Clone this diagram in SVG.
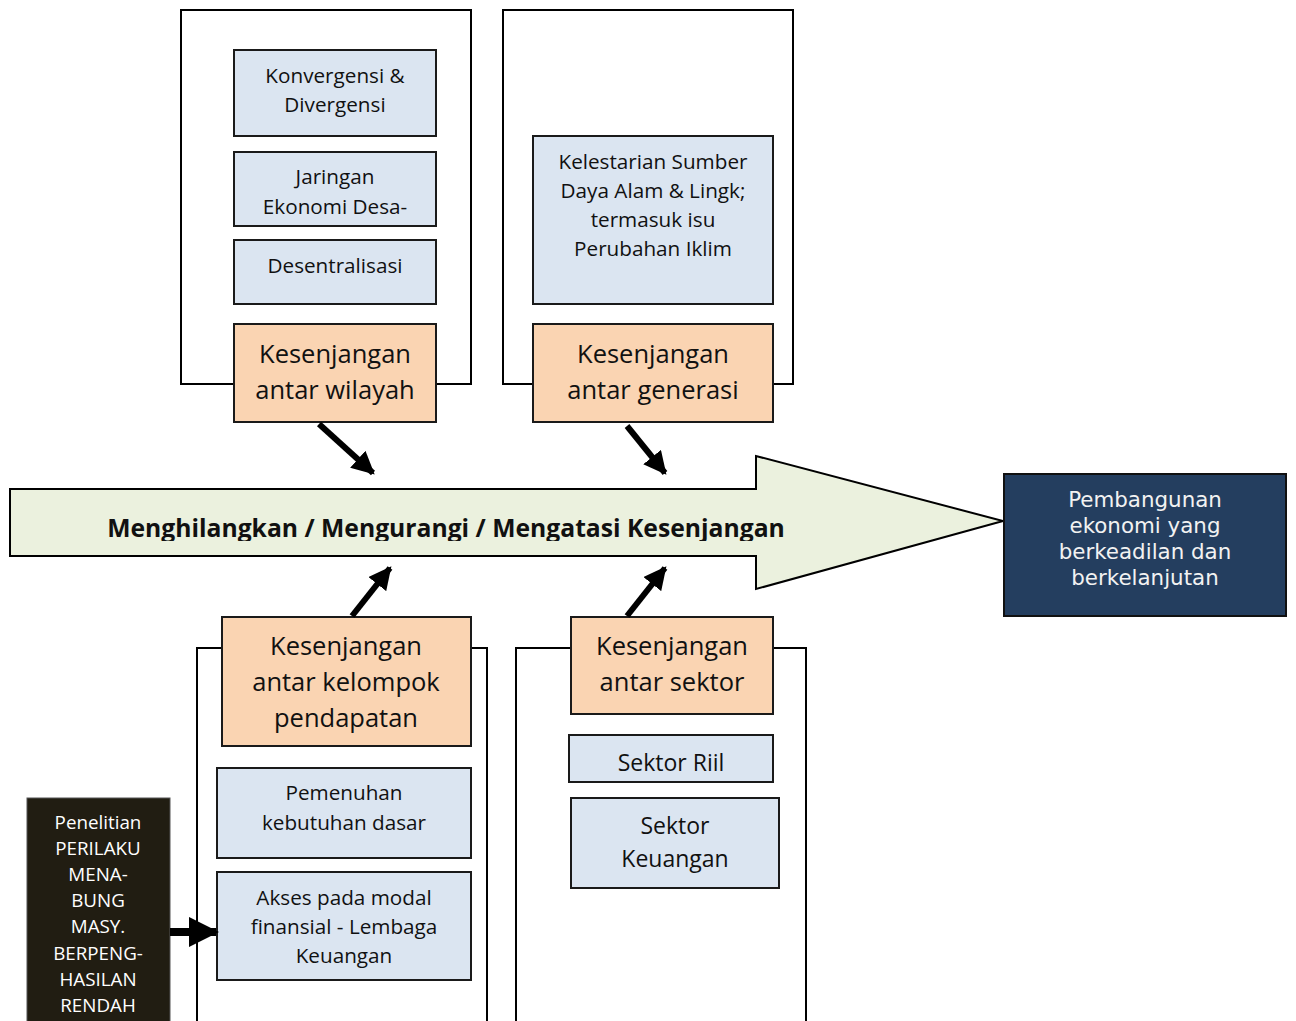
<svg xmlns="http://www.w3.org/2000/svg" width="1296" height="1021" viewBox="0 0 1296 1021">
<defs>
<style>
.frame{fill:#fff;stroke:#000;stroke-width:2}
.blue{fill:#dbe5f1;stroke:#1a1a1a;stroke-width:2}
.orange{fill:#fad4b2;stroke:#1a1a1a;stroke-width:2}
.t{font-family:"Open Sans","Liberation Sans",sans-serif;fill:#111;text-anchor:middle}
.s{font-size:20.7px}
.b{font-size:23px}
.o{font-size:25.5px}
.w{font-family:"Open Sans","Liberation Sans",sans-serif;fill:#fff;text-anchor:middle;font-size:18.8px}
.v{font-family:"DejaVu Sans",Verdana,sans-serif;fill:#f2f2f2;text-anchor:middle;font-size:21.4px}
.conn{stroke:#000;stroke-width:6;fill:none}
</style>
<marker id="ah" viewBox="0 0 10 10" refX="9" refY="5" markerWidth="3.8" markerHeight="3.8" orient="auto" markerUnits="strokeWidth">
<path d="M0,0 L10,5 L0,10 z" fill="#000"/>
</marker>
<clipPath id="clipTitle"><rect x="10" y="489" width="1000" height="52"/></clipPath>
</defs>

<g id="frames">
<rect class="frame" x="181" y="10" width="290" height="374"/>
<rect class="frame" x="503" y="10" width="290" height="374"/>
<rect class="frame" x="197" y="648" width="290" height="400"/>
<rect class="frame" x="516" y="648" width="290" height="400"/>
</g>

<g id="main-arrow">
<path d="M10,489 L756,489 L756,456 L1003,521 L756,589 L756,556 L10,556 Z" fill="#ebf1de" stroke="#000" stroke-width="2"/>
<text class="t" x="446" y="537" font-size="24.7" font-weight="bold" clip-path="url(#clipTitle)">Menghilangkan / Mengurangi / Mengatasi Kesenjangan</text>
</g>

<g id="node-konvergensi">
<rect class="blue" x="234" y="50" width="202" height="86"/>
<text class="t s" x="335" y="83">Konvergensi &amp;</text>
<text class="t s" x="335" y="112">Divergensi</text>
</g>
<g id="node-jaringan">
<rect class="blue" x="234" y="152" width="202" height="74"/>
<text class="t s" x="335" y="184">Jaringan</text>
<text class="t s" x="335" y="214">Ekonomi Desa-</text>
</g>
<g id="node-desentralisasi">
<rect class="blue" x="234" y="240" width="202" height="64"/>
<text class="t s" x="335" y="273">Desentralisasi</text>
</g>
<g id="node-wilayah">
<rect class="orange" x="234" y="324" width="202" height="98"/>
<text class="t o" x="335" y="363">Kesenjangan</text>
<text class="t o" x="335" y="399">antar wilayah</text>
</g>

<g id="node-kelestarian">
<rect class="blue" x="533" y="136" width="240" height="168"/>
<text class="t s" x="653" y="169">Kelestarian Sumber</text>
<text class="t s" x="653" y="198">Daya Alam &amp; Lingk;</text>
<text class="t s" x="653" y="227">termasuk isu</text>
<text class="t s" x="653" y="256">Perubahan Iklim</text>
</g>
<g id="node-generasi">
<rect class="orange" x="533" y="324" width="240" height="98"/>
<text class="t o" x="653" y="363">Kesenjangan</text>
<text class="t o" x="653" y="399">antar generasi</text>
</g>

<g id="node-goal">
<rect x="1004" y="474" width="282" height="142" fill="#243e5f" stroke="#111" stroke-width="2"/>
<text class="v" x="1145" y="507">Pembangunan</text>
<text class="v" x="1145" y="533">ekonomi yang</text>
<text class="v" x="1145" y="559">berkeadilan dan</text>
<text class="v" x="1145" y="585">berkelanjutan</text>
</g>

<g id="node-kelompok">
<rect class="orange" x="222" y="617" width="249" height="129"/>
<text class="t o" x="346" y="655">Kesenjangan</text>
<text class="t o" x="346" y="691">antar kelompok</text>
<text class="t o" x="346" y="727">pendapatan</text>
</g>
<g id="node-pemenuhan">
<rect class="blue" x="217" y="768" width="254" height="90"/>
<text class="t s" x="344" y="800">Pemenuhan</text>
<text class="t s" x="344" y="830">kebutuhan dasar</text>
</g>
<g id="node-akses">
<rect class="blue" x="217" y="872" width="254" height="108"/>
<text class="t s" x="344" y="905">Akses pada modal</text>
<text class="t s" x="344" y="934">finansial - Lembaga</text>
<text class="t s" x="344" y="963">Keuangan</text>
</g>

<g id="node-sektor">
<rect class="orange" x="571" y="617" width="202" height="97"/>
<text class="t o" x="672" y="655">Kesenjangan</text>
<text class="t o" x="672" y="691">antar sektor</text>
</g>
<g id="node-riil">
<rect class="blue" x="569" y="735" width="204" height="47"/>
<text class="t b" x="671" y="771">Sektor Riil</text>
</g>
<g id="node-keuangan">
<rect class="blue" x="571" y="798" width="208" height="90"/>
<text class="t b" x="675" y="834">Sektor</text>
<text class="t b" x="675" y="867">Keuangan</text>
</g>

<g id="node-penelitian">
<rect x="27" y="798" width="143" height="240" fill="#211d12" stroke="#555" stroke-width="1"/>
<text class="w" x="98" y="829">Penelitian</text>
<text class="w" x="98" y="855">PERILAKU</text>
<text class="w" x="98" y="881">MENA-</text>
<text class="w" x="98" y="907">BUNG</text>
<text class="w" x="98" y="933">MASY.</text>
<text class="w" x="98" y="960">BERPENG-</text>
<text class="w" x="98" y="986">HASILAN</text>
<text class="w" x="98" y="1012">RENDAH</text>
</g>

<g id="connectors">
<line class="conn" x1="319" y1="424" x2="373" y2="473" marker-end="url(#ah)"/>
<line class="conn" x1="627" y1="426" x2="665" y2="473" marker-end="url(#ah)"/>
<line class="conn" x1="352" y1="616" x2="390" y2="568" marker-end="url(#ah)"/>
<line class="conn" x1="627" y1="616" x2="665" y2="568" marker-end="url(#ah)"/>
<line x1="170" y1="932" x2="216" y2="932" stroke="#000" stroke-width="8" marker-end="url(#ah)"/>
</g>
</svg>
